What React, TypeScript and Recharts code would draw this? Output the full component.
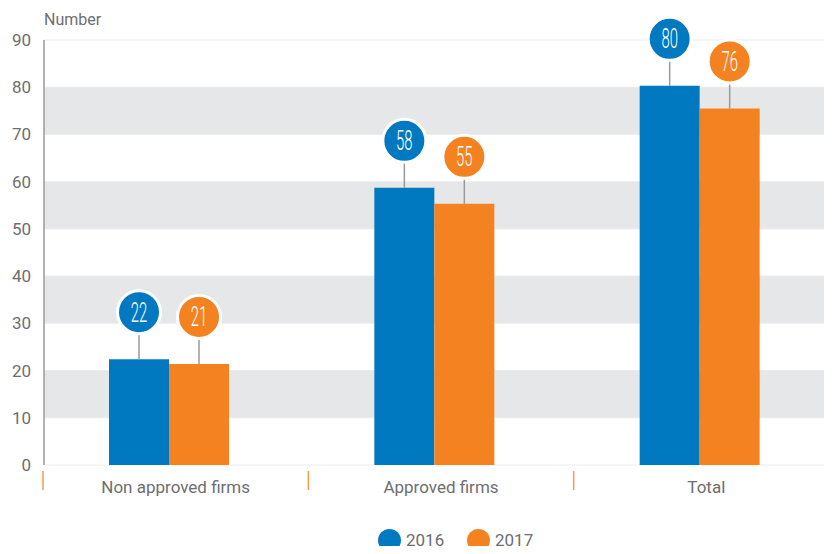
import React from 'react';
import { BarChart, Bar, XAxis, YAxis, CartesianGrid, LabelList, Legend } from 'recharts';

const categories = ['Non approved firms', 'Approved firms', 'Total'];
const values2016 = [22.4, 58.7, 80.3];
const values2017 = [21.4, 55.3, 75.5];
const labels2016 = [22, 58, 80];
const labels2017 = [21, 55, 76];
const yTicks = [0, 10, 20, 30, 40, 50, 60, 70, 80, 90];
const seriesNames = ['2016', '2017'];

const BLUE = '#0079c1';
const ORANGE = '#f58220';
const TEXT = '#6d6e70';

const W = 832;
const H = 554;
const Y_W = 44;
const PAD_L = -8;
const BAND = (W - Y_W - PAD_L) / categories.length;
const TICK_SHIFT = 7;

const data = categories.map((c, i) => ({ name: c, y2016: values2016[i], y2017: values2017[i] }));

const makeBubble = (color: string, labels: number[]) => (props: any) => {
  const { x, y, width, index } = props;
  const cx = Number(x) + Number(width) / 2;
  const top = Number(y);
  const cy = top - 47;
  return (
    <g>
      <line x1={cx} x2={cx} y1={top} y2={cy + 22} stroke="#9a9a9a" strokeWidth={1.5} />
      <circle cx={cx} cy={cy} r={21.5} fill={color} stroke="#ffffff" strokeWidth={3} />
      <text
        transform={`translate(${cx},${cy + 9.5}) scale(0.55,1)`}
        textAnchor="middle"
        fill="#ffffff"
        fontFamily="Roboto, sans-serif"
        fontWeight={300}
        fontSize={27}
      >
        {labels[index]}
      </text>
    </g>
  );
};

const CatTick = (props: any) => {
  const { x, y, payload } = props;
  const lx = x - BAND / 2 + TICK_SHIFT;
  return (
    <g>
      <line x1={lx} x2={lx} y1={y - 2} y2={y + 17} stroke={ORANGE} strokeWidth={1.5} opacity={0.8} />
      <text x={x + TICK_SHIFT} y={y} dy={20} textAnchor="middle" fill={TEXT} fontFamily="Roboto, sans-serif" fontSize={17}>
        {payload.value}
      </text>
    </g>
  );
};

const LegendContent = () => (
  <div style={{ height: 49, width: W, position: 'relative', fontFamily: 'Roboto, sans-serif', fontSize: 17, color: TEXT }}>
    {seriesNames.map((n, i) => (
      <div key={n} style={{ position: 'absolute', left: i === 0 ? 378 : 467, top: 24, display: 'flex', alignItems: 'center' }}>
        <span style={{ display: 'inline-block', width: 23, height: 23, borderRadius: '50%', background: i === 0 ? BLUE : ORANGE }} />
        <span style={{ marginLeft: 5, lineHeight: '23px' }}>{n}</span>
      </div>
    ))}
  </div>
);

export default function App() {
  return (
    <div style={{ margin: -8, width: W, height: H, background: '#fff' }}>
      <BarChart width={W} height={H} data={data} margin={{ top: 40, right: 0, bottom: 0, left: 0 }} barGap={0} barSize={60}>
        <CartesianGrid vertical={false} stroke="#ececec" horizontalFill={['#ffffff', '#e6e7e8']} />
        <XAxis dataKey="name" axisLine={false} tickLine={false} height={40} tick={<CatTick />} interval={0} padding={{ left: PAD_L, right: 0 }} />
        <YAxis
          width={Y_W}
          domain={[0, 90]}
          ticks={yTicks}
          axisLine={{ stroke: '#9a9a9a', strokeWidth: 1.5 }}
          tickLine={false}
          tickMargin={7}
          tick={{ fill: TEXT, fontSize: 17, fontFamily: 'Roboto, sans-serif' }}
          label={(p: any) => {
            const vb = p.viewBox || {};
            return (
              <text x={(vb.x || 0) + (vb.width || 0)} y={(vb.y || 0) - 15} fill={TEXT} fontSize={16} fontFamily="Roboto, sans-serif">
                Number
              </text>
            );
          }}
        />
        <Legend verticalAlign="bottom" content={<LegendContent />} wrapperStyle={{ left: 0, bottom: 0, width: W, height: 49 }} />
        <Bar dataKey="y2016" name={seriesNames[0]} fill={BLUE} isAnimationActive={false}>
          <LabelList dataKey="y2016" content={makeBubble(BLUE, labels2016)} />
        </Bar>
        <Bar dataKey="y2017" name={seriesNames[1]} fill={ORANGE} isAnimationActive={false}>
          <LabelList dataKey="y2017" content={makeBubble(ORANGE, labels2017)} />
        </Bar>
      </BarChart>
    </div>
  );
}
